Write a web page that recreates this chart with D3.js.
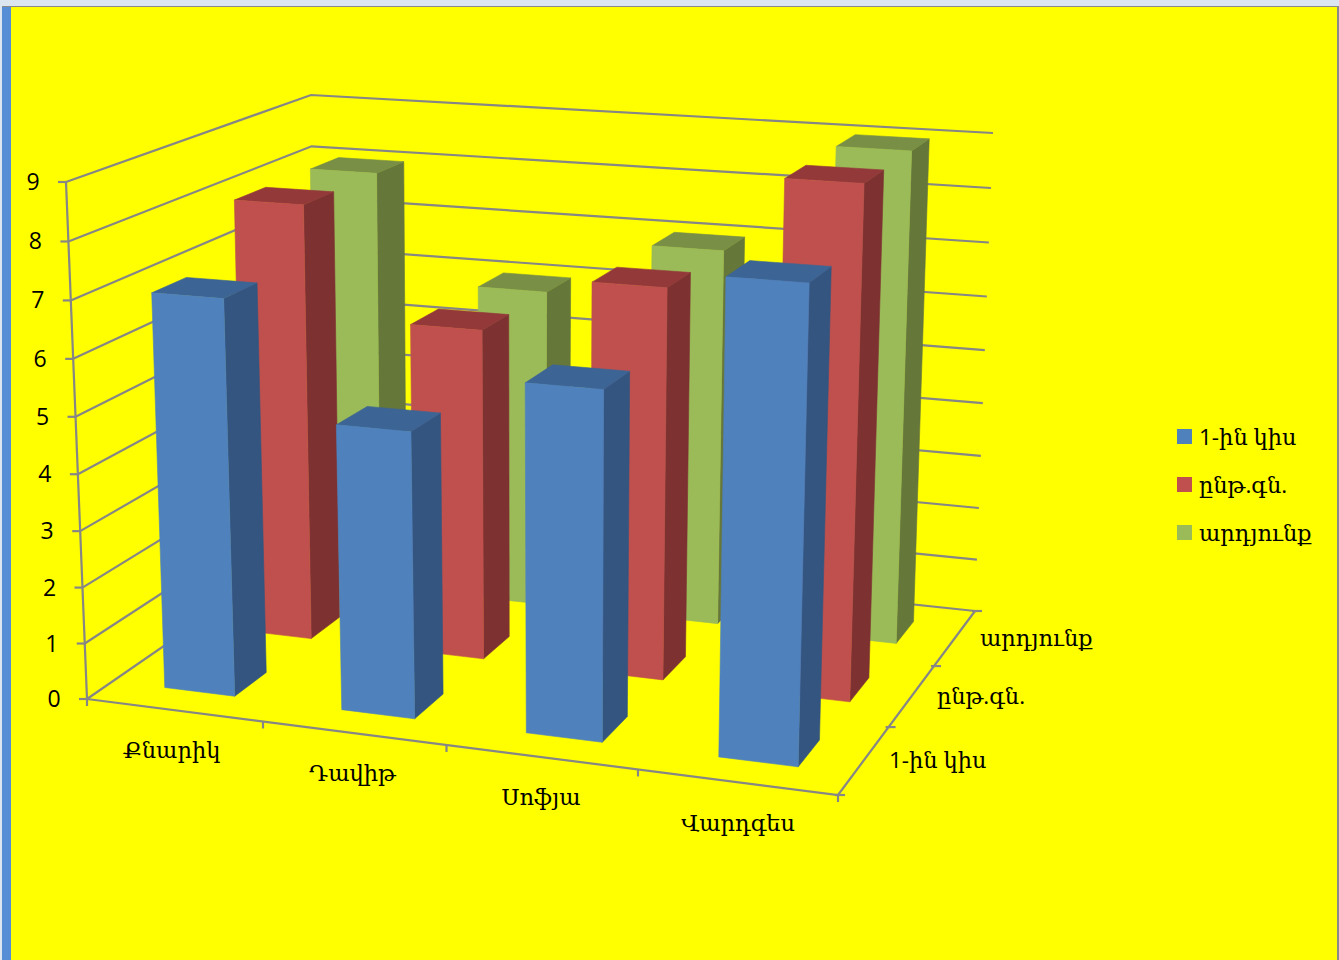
<!DOCTYPE html>
<html>
<head>
<meta charset="utf-8">
<script src="https://cdn.jsdelivr.net/npm/d3@7"></script>
<style>
  html, body { margin: 0; padding: 0; background: #ffff00; overflow: hidden; }
  text { font-family: "Open Sans", "DejaVu Serif", serif; fill: #000; }
</style>
</head>
<body>
<script>
var categories = ["Քնարիկ", "Դավիթ", "Սոֆյա", "Վարդգես"];
var seriesNames = ["1-ին կիս", "ընթ.գն.", "արդյունք"];
var half = [7, 5, 6, 8];
var average = [8, 6, 7, 9];
var result = [8, 6, 7, 9];
var yTicks = [0, 1, 2, 3, 4, 5, 6, 7, 8, 9];

var seriesValues = [half, average, result];
var front = ["#4f81bd", "#c0504d", "#9bbb59"];
var side = ["#335580", "#7d3231", "#66773a"];
var top3d = ["#3c6494", "#93393a", "#788f45"];

var width = 1339, height = 960;

var svg = d3.select("body").append("svg")
    .attr("width", width)
    .attr("height", height)
    .style("display", "block");

// window frame round the chart
svg.append("rect").attr("width", width).attr("height", 6).attr("fill", "#dce6f1");
svg.append("rect").attr("y", 6).attr("width", width).attr("height", 1).attr("fill", "#8a8a8a");
svg.append("rect").attr("x", 0).attr("y", 6).attr("width", 2).attr("height", height).attr("fill", "#dce6f1");
svg.append("rect").attr("x", 2).attr("y", 7).attr("width", 9).attr("height", height).attr("fill", "#558ed5");
svg.append("rect").attr("x", 1337).attr("y", 6).attr("width", 2).attr("height", height).attr("fill", "#8a8a8a");

// unit square -> quad, corners (0,0) (1,0) (1,1) (0,1)
function quadMap(p) {
    var dx1 = p[1][0] - p[2][0], dx2 = p[3][0] - p[2][0], sx = p[0][0] - p[1][0] + p[2][0] - p[3][0];
    var dy1 = p[1][1] - p[2][1], dy2 = p[3][1] - p[2][1], sy = p[0][1] - p[1][1] + p[2][1] - p[3][1];
    var den = dx1 * dy2 - dx2 * dy1;
    var g = (sx * dy2 - dx2 * sy) / den, h = (dx1 * sy - sx * dy1) / den;
    var a = p[1][0] - p[0][0] + g * p[1][0], b = p[3][0] - p[0][0] + h * p[3][0], c = p[0][0];
    var d = p[1][1] - p[0][1] + g * p[1][1], e = p[3][1] - p[0][1] + h * p[3][1], f = p[0][1];
    return function(u, v) {
        var w = g * u + h * v + 1;
        return [(a * u + b * v + c) / w, (d * u + e * v + f) / w];
    };
}

// the plot box as it sits on the page
var floorMap = quadMap([[87, 699], [838, 795], [975, 611], [316, 541]]);
var roofMap = quadMap([[66, 182], [853, 236], [993, 133], [311, 95]]);
var rise = 1.04; // upper units look a little taller than lower ones

var x = d3.scaleBand().domain(categories).range([0, 1.006]).paddingInner(0.6).paddingOuter(0.3);
var xPoint = d3.scaleLinear().domain([0, categories.length]).range([0, 1]);
var z = d3.scaleBand().domain(seriesNames).range([0, 1]).paddingInner(0.6).paddingOuter(0.3);
var zPoint = d3.scaleLinear().domain([0, seriesNames.length]).range([0, 1]);
var y = d3.scaleLinear().domain([0, 9]).range([0, 1]);

function project(u, v, value) {
    var a = floorMap(u, v), b = roofMap(u, v), s = y(value);
    var t = s / (s + (1 - s) * rise);
    return [a[0] + (b[0] - a[0]) * t, a[1] + (b[1] - a[1]) * t];
}

var line = d3.line();
var grid = svg.append("g").attr("fill", "none").attr("stroke", "#868686").attr("stroke-width", 2.2);

// left wall and back wall gridlines
grid.selectAll(".wall")
    .data(yTicks)
    .enter()
    .append("path")
    .attr("class", "wall")
    .attr("d", d => line([project(0, 0, d), project(0, 1, d), project(1, 1, d)]));

// axis lines
grid.append("path").attr("d", line([project(0, 0, 0), project(0, 0, 9)]));
grid.append("path").attr("d", line([project(0, 0, 0), project(1, 0, 0), project(1, 1, 0)]));

// tick marks
grid.selectAll(".ytick")
    .data(yTicks)
    .enter()
    .append("path")
    .attr("class", "ytick")
    .attr("d", d => {
        var p = project(0, 0, d);
        return line([[p[0] - 8, p[1]], p]);
    });
grid.selectAll(".xtick")
    .data(d3.range(categories.length + 1))
    .enter()
    .append("path")
    .attr("class", "xtick")
    .attr("d", d => {
        var p = project(xPoint(d), 0, 0);
        return line([p, [p[0], p[1] + 7]]);
    });
grid.selectAll(".ztick")
    .data(d3.range(seriesNames.length + 1))
    .enter()
    .append("path")
    .attr("class", "ztick")
    .attr("d", d => {
        var p = project(1, zPoint(d), 0);
        return line([[p[0] - 3, p[1]], [p[0] + 7, p[1]]]);
    });

// bars, back row first
var bars = svg.append("g").attr("stroke-width", 0.6);
d3.range(seriesNames.length).reverse().forEach(function(s) {
    categories.forEach(function(cat, i) {
        var v = seriesValues[s][i];
        var x0 = x(cat), x1 = x0 + x.bandwidth();
        var z0 = z(seriesNames[s]), z1 = z0 + z.bandwidth();
        var g = bars.append("g");
        g.append("path")
            .attr("fill", side[s])
            .attr("stroke", side[s])
            .attr("d", line([project(x1, z0, 0), project(x1, z1, 0), project(x1, z1, v), project(x1, z0, v)]) + "Z");
        g.append("path")
            .attr("fill", top3d[s])
            .attr("stroke", top3d[s])
            .attr("d", line([project(x0, z0, v), project(x1, z0, v), project(x1, z1, v), project(x0, z1, v)]) + "Z");
        g.append("path")
            .attr("fill", front[s])
            .attr("stroke", front[s])
            .attr("d", line([project(x0, z0, 0), project(x1, z0, 0), project(x1, z0, v), project(x0, z0, v)]) + "Z");
    });
});

// axis text
svg.selectAll(".ylabel")
    .data(yTicks)
    .enter()
    .append("text")
    .attr("class", "ylabel")
    .attr("x", d => project(0, 0, d)[0] - 33)
    .attr("y", d => project(0, 0, d)[1] + 8)
    .attr("text-anchor", "middle")
    .style("font-size", "23px")
    .text(d => d);

svg.selectAll(".xlabel")
    .data(categories)
    .enter()
    .append("text")
    .attr("class", "xlabel")
    .attr("x", d => project(x(d) + x.bandwidth() / 2, 0, 0)[0] - 3)
    .attr("y", d => project(x(d) + x.bandwidth() / 2, 0, 0)[1] + 48)
    .attr("text-anchor", "middle")
    .style("font-size", "22.5px")
    .text(d => d);

svg.selectAll(".zlabel")
    .data(seriesNames)
    .enter()
    .append("text")
    .attr("class", "zlabel")
    .attr("x", d => project(1, z(d) + z.bandwidth() / 2, 0)[0] + 25)
    .attr("y", d => project(1, z(d) + z.bandwidth() / 2, 0)[1] + 8)
    .style("font-size", "22.5px")
    .text(d => d);

// legend
var legendRow = d3.scalePoint().domain(seriesNames).range([437, 533]);
var legend = svg.selectAll(".legend")
    .data(seriesNames)
    .enter()
    .append("g")
    .attr("class", "legend")
    .attr("transform", d => "translate(1177," + legendRow(d) + ")");
legend.append("rect")
    .attr("y", -8)
    .attr("width", 15)
    .attr("height", 15)
    .attr("fill", (d, i) => front[i]);
legend.append("text")
    .attr("x", 22)
    .attr("y", 8)
    .style("font-size", "22.5px")
    .text(d => d);
</script>
</body>
</html>
